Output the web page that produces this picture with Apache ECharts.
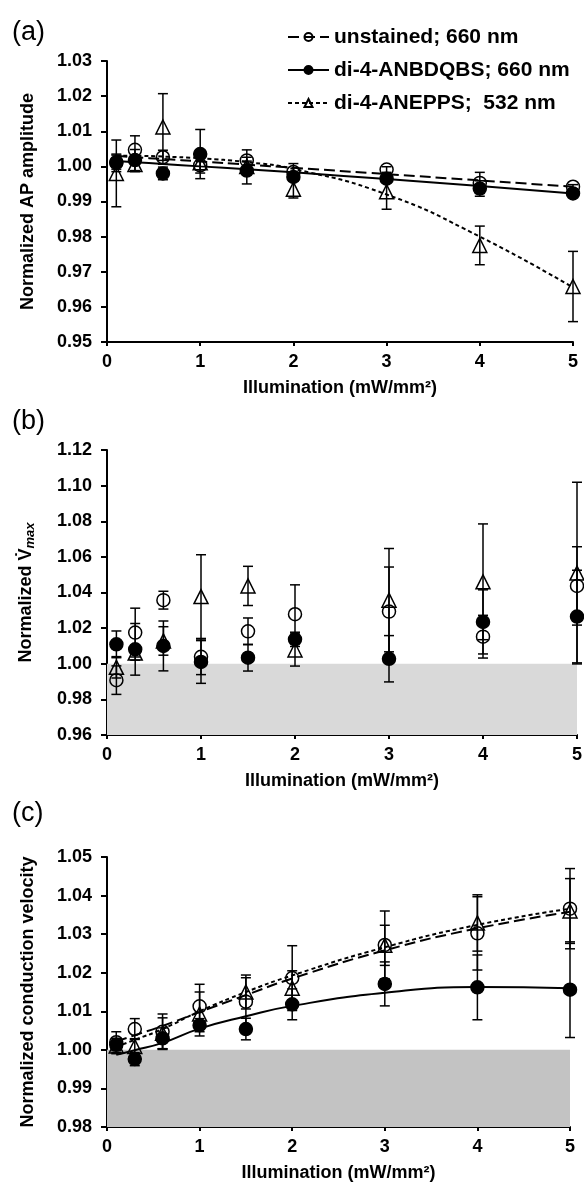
<!DOCTYPE html>
<html>
<head>
<meta charset="utf-8">
<title>Illumination effects</title>
<script src="https://cdn.jsdelivr.net/npm/echarts@6/dist/echarts.min.js"></script>
<style>
  html, body { margin: 0; padding: 0; background: #fff; }
  #chart { width: 584px; height: 1185px; }
</style>
</head>
<body>
<div id="chart"></div>
<script>
// illumination levels (mW/mm2), shared by all three panels
var xVals = [0.1, 0.3, 0.6, 1, 1.5, 2, 3, 4, 5];
var xRange = [0, 5, 1];
var groupNames = ["unstained; 660 nm", "di-4-ANBDQBS; 660 nm", "di-4-ANEPPS;  532 nm"];

// (a) normalized AP amplitude
var aRange = [0.95, 1.03, 0.01];
var apUnst = [1.0010, 1.0047, 1.0026, 1.0003, 1.0017, 0.9984, 0.9991, 0.9953, 0.9942];
var apUnstErr = [0.0025, 0.0040, 0.0020, 0.0022, 0.0030, 0.0024, 0.0008, 0.0030, 0.0006];
var apAnb = [1.0012, 1.0018, 0.9980, 1.0035, 0.9988, 0.9970, 0.9965, 0.9937, 0.9923];
var apAnbErr = [0.0020, 0.0030, 0.0018, 0.0070, 0.0038, 0.0012, 0.0010, 0.0022, 0.0008];
var apAnep = [0.9980, 1.0005, 1.0112, 1.0010, 1.0000, 0.9935, 0.9928, 0.9775, 0.9658];
var apAnepErr = [0.0095, 0.0020, 0.0095, 0.0020, 0.0015, 0.0025, 0.0050, 0.0055, 0.0100];
// trend lines
var apUnstFit = [1.0030, 1.0026, 1.0021, 1.0014, 1.0005, 0.9996, 0.9978, 0.9960, 0.9942];
var apAnbFit = [1.0015, 1.0012, 1.0007, 1.0000, 0.9992, 0.9983, 0.9964, 0.9944, 0.9923];
var apAnepFit = [1.0030, 1.0030, 1.0028, 1.0023, 1.0012, 0.9993, 0.9920, 0.9800, 0.9655];

// (b) normalized Vmax
var bRange = [0.96, 1.12, 0.02];
var bBand = [0.96, 1.00];
var vUnst = [0.9908, 1.0175, 1.0357, 1.0039, 1.0182, 1.0278, 1.0293, 1.0152, 1.0437];
var vUnstErr = [0.0080, 0.0137, 0.0050, 0.0100, 0.0075, 0.0165, 0.0250, 0.0120, 0.0220];
var vAnb = [1.0109, 1.0081, 1.0100, 1.0010, 1.0034, 1.0137, 1.0028, 1.0235, 1.0265];
var vAnbErr = [0.0075, 0.0145, 0.0140, 0.0120, 0.0075, 0.0040, 0.0130, 0.0180, 0.0260];
var vAnep = [0.9980, 1.0060, 1.0128, 1.0377, 1.0437, 1.0077, 1.0357, 1.0460, 1.0509];
var vAnepErr = [0.0060, 0.0040, 0.0080, 0.0235, 0.0110, 0.0090, 0.0290, 0.0325, 0.0510];

// (c) normalized conduction velocity
var cRange = [0.98, 1.05, 0.01];
var cBand = [0.98, 1.00];
var cvUnst = [1.0020, 1.0054, 1.0047, 1.0113, 1.0125, 1.0186, 1.0272, 1.0302, 1.0366];
var cvUnstErr = [0.0027, 0.0027, 0.0046, 0.0057, 0.0062, 0.0084, 0.0088, 0.0095, 0.0104];
var cvAnb = [1.0013, 0.9976, 1.0030, 1.0064, 1.0054, 1.0118, 1.0171, 1.0162, 1.0156];
var cvAnbErr = [0.0015, 0.0017, 0.0027, 0.0017, 0.0028, 0.0040, 0.0057, 0.0084, 0.0124];
var cvAnep = [1.0010, 1.0009, 1.0043, 1.0093, 1.0150, 1.0160, 1.0271, 1.0329, 1.0360];
var cvAnepErr = [0.0020, 0.0020, 0.0040, 0.0057, 0.0044, 0.0045, 0.0052, 0.0073, 0.0084];
var cvUnstFit = [1.0022, 1.0038, 1.0062, 1.0098, 1.0142, 1.0185, 1.0258, 1.0315, 1.0358];
var cvAnbFit = [0.9987, 0.9999, 1.0018, 1.0055, 1.0087, 1.0114, 1.0148, 1.0163, 1.0160];
var cvAnepFit = [1.0008, 1.0026, 1.0054, 1.0100, 1.0150, 1.0193, 1.0266, 1.0324, 1.0366];

var FONT = "'Liberation Sans', Arial, sans-serif";

// marker + line look per group: unstained, ANBDQBS, ANEPPS
var looks = [
  { symbol: "circle", fill: "rgba(0,0,0,0)", dash: [11, 5], size: 13 },
  { symbol: "circle", fill: "#000", dash: "solid", size: 13 },
  { symbol: "triangle", fill: "rgba(0,0,0,0)", dash: [4, 3], size: 14 },
];

function pts(ys) {
  return xVals.map(function (x, i) { return [x, ys[i]]; });
}
function errPts(ys, es) {
  return xVals.map(function (x, i) { return [x, ys[i], es[i]]; });
}

// vertical error bar with caps
function renderErr(params, api) {
  var x = api.value(0), m = api.value(1), e = api.value(2);
  var hi = api.coord([x, m + e]);
  var lo = api.coord([x, m - e]);
  var c = 5;
  function seg(x1, y1, x2, y2) {
    return { type: "line", shape: { x1: x1, y1: y1, x2: x2, y2: y2 },
      style: { stroke: "#000", lineWidth: 1.5 } };
  }
  return { type: "group", children: [
    seg(hi[0], hi[1], lo[0], lo[1]),
    seg(hi[0] - c, hi[1], hi[0] + c, hi[1]),
    seg(lo[0] - c, lo[1], lo[0] + c, lo[1]),
  ] };
}

function xAxisOf(gi) {
  return {
    type: "value", gridIndex: gi, min: xRange[0], max: xRange[1], interval: xRange[2],
    name: "Illumination (mW/mm²)", nameLocation: "middle", nameGap: 37, nameMoveOverlap: false,
    nameTextStyle: { color: "#000", fontSize: 18, fontWeight: "bold", fontFamily: FONT },
    axisLine: { onZero: false, lineStyle: { color: "#000", width: 2 } },
    axisTick: { length: 4, lineStyle: { color: "#000", width: 2 } },
    axisLabel: { margin: 11, color: "#000", fontSize: 18, fontWeight: "bold", fontFamily: FONT },
    splitLine: { show: false },
  };
}
function yAxisOf(gi, range, name, rich) {
  return {
    type: "value", gridIndex: gi, min: range[0], max: range[1], interval: range[2],
    name: name, nameLocation: "middle", nameGap: 70, nameMoveOverlap: false,
    nameTextStyle: { color: "#000", fontSize: 18, fontWeight: "bold", fontFamily: FONT, rich: rich },
    axisLine: { onZero: false, lineStyle: { color: "#000", width: 2 } },
    axisTick: { length: 6, lineStyle: { color: "#000", width: 2 } },
    axisLabel: { margin: 15, color: "#000", fontSize: 18, fontWeight: "bold", fontFamily: FONT,
      formatter: function (v) { return v.toFixed(2); } },
    splitLine: { show: false },
  };
}

var series = [];

function addPanel(gi, means, errs, fits, band, bandColor) {
  if (band) {
    series.push({
      type: "line", xAxisIndex: gi, yAxisIndex: gi, data: [], silent: true, z: 0,
      markArea: { silent: true, itemStyle: { color: bandColor },
        data: [[{ coord: [xRange[0], band[0]] }, { coord: [xRange[1], band[1]] }]] },
    });
  }
  for (var g = 0; g < 3; g++) {
    series.push({
      type: "custom", xAxisIndex: gi, yAxisIndex: gi, z: 2, silent: true,
      renderItem: renderErr, encode: { x: 0, y: 1 }, data: errPts(means[g], errs[g]),
    });
  }
  if (fits) {
    for (var g2 = 0; g2 < 3; g2++) {
      series.push({
        name: gi === 0 ? groupNames[g2] : groupNames[g2] + " fit",
        type: "line", xAxisIndex: gi, yAxisIndex: gi, z: 3, smooth: true,
        showSymbol: false, symbol: looks[g2].symbol,
        itemStyle: { color: looks[g2].fill, borderColor: "#000", borderWidth: 1.5 },
        lineStyle: { color: "#000", width: 2, type: looks[g2].dash },
        data: pts(fits[g2]),
      });
    }
  }
  // triangles first, then open circles, filled circles on top
  [2, 0, 1].forEach(function (g3) {
    series.push({
      type: "scatter", xAxisIndex: gi, yAxisIndex: gi, z: 4, silent: true,
      symbol: looks[g3].symbol, symbolSize: looks[g3].size,
      itemStyle: { color: looks[g3].fill, borderColor: "#000", borderWidth: 1.5, opacity: 1 },
      data: pts(means[g3]),
    });
  });
}

addPanel(0, [apUnst, apAnb, apAnep], [apUnstErr, apAnbErr, apAnepErr],
  [apUnstFit, apAnbFit, apAnepFit], null, null);
addPanel(1, [vUnst, vAnb, vAnep], [vUnstErr, vAnbErr, vAnepErr], null, bBand, "#d9d9d9");
addPanel(2, [cvUnst, cvAnb, cvAnep], [cvUnstErr, cvAnbErr, cvAnepErr],
  [cvUnstFit, cvAnbFit, cvAnepFit], cBand, "#c3c3c3");

var panelTitle = function (txt, top) {
  return { text: txt, left: 7, top: top,
    textStyle: { color: "#000", fontSize: 27, fontWeight: "normal", fontFamily: FONT } };
};

var chart = echarts.init(document.getElementById("chart"), null, { renderer: "canvas" });
chart.setOption({
  animation: false,
  backgroundColor: "#fff",
  title: [panelTitle("(a)", 14), panelTitle("(b)", 403), panelTitle("(c)", 795)],
  legend: {
    data: groupNames, orient: "vertical", left: 282, top: 21,
    itemWidth: 41, itemHeight: 10, itemGap: 11,
    selectedMode: false,
    textStyle: { color: "#000", fontSize: 21, fontWeight: "bold", fontFamily: FONT, lineHeight: 22 },
  },
  grid: [
    { left: 107, right: 11, top: 61, height: 281, outerBoundsMode: "none" },
    { left: 107, right: 7, top: 450, height: 285, outerBoundsMode: "none" },
    { left: 107, right: 14, top: 857, height: 270, outerBoundsMode: "none" },
  ],
  xAxis: [xAxisOf(0), xAxisOf(1), xAxisOf(2)],
  yAxis: [
    yAxisOf(0, aRange, "Normalized AP amplitude"),
    yAxisOf(1, bRange, "Normalized V\u0307{s|max}", {
      s: { fontSize: 13, fontStyle: "italic", fontWeight: "bold", fontFamily: FONT,
        color: "#000", padding: [8, 0, 0, 0] },
    }),
    yAxisOf(2, cRange, "Normalized conduction velocity"),
  ],
  series: series,
});
</script>
</body>
</html>
